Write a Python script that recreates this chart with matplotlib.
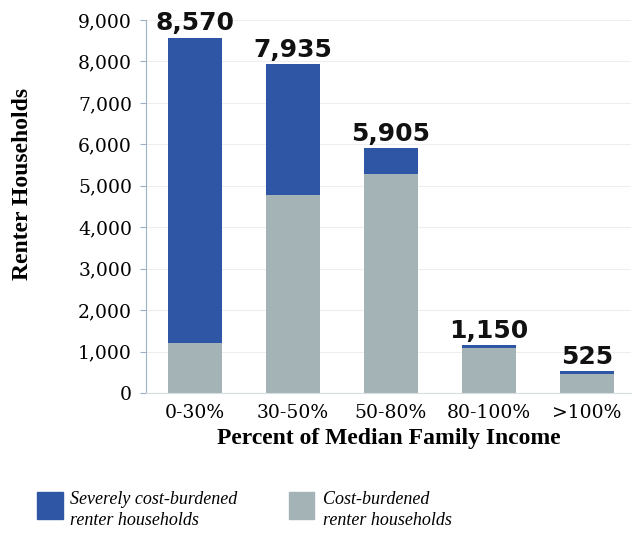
import numpy as np
import matplotlib.pyplot as plt
from matplotlib.patches import Rectangle

categories = ["0-30%", "30-50%", "50-80%", "80-100%", ">100%"]
totals = [8570, 7935, 5905, 1150, 525]
cost_burdened = [1200, 4780, 5290, 1080, 460]
severe = [t - c for t, c in zip(totals, cost_burdened)]
total_labels = ["8,570", "7,935", "5,905", "1,150", "525"]

blue = "#2f56a5"
gray = "#a4b4b6"
serif = "Liberation Serif"

fig = plt.figure(figsize=(6.33, 5.4), dpi=100)
ax = fig.add_axes([146 / 633, 147 / 540, (631 - 146) / 633, (393 - 20) / 540])

x = np.arange(len(categories))
ax.bar(x, cost_burdened, width=0.55, color=gray, zorder=2)
ax.bar(x, severe, width=0.55, bottom=cost_burdened, color=blue, zorder=2)

for xi, t, lab in zip(x, totals, total_labels):
    ax.text(xi, t + 60, lab, ha="center", va="bottom", fontsize=18,
            fontweight="bold", family="DejaVu Sans", color="#111111")

ax.set_xlim(-0.5, 4.45)
ax.set_ylim(0, 9000)
ax.set_yticks(np.arange(0, 9001, 1000))
ax.set_yticklabels([f"{v:,}" for v in range(0, 9001, 1000)],
                   family="DejaVu Serif", fontsize=13.5)
ax.set_xticks(x)
ax.set_xticklabels(categories, family="DejaVu Serif", fontsize=13.5)
ax.tick_params(axis="x", length=0, pad=8)
ax.tick_params(axis="y", length=4, color="#9fb0c4", pad=6)
ax.yaxis.grid(True, color="#eeeeee", linewidth=0.8, zorder=0)

for s in ["top", "right"]:
    ax.spines[s].set_visible(False)
ax.spines["left"].set_color("#9fb0c4")
ax.spines["bottom"].set_color("#d8dde0")

ax.set_ylabel("Renter Households", family=serif, fontweight="bold", fontsize=17)
ax.yaxis.set_label_coords(-0.232, 0.56)
ax.set_xlabel("Percent of Median Family Income", family=serif, fontweight="bold", fontsize=17, labelpad=4)

# legend
fig.patches.append(Rectangle((37 / 633, 1 - 519 / 540), 26 / 633, 27 / 540,
                             transform=fig.transFigure, color=blue))
fig.patches.append(Rectangle((289 / 633, 1 - 519 / 540), 25 / 633, 27 / 540,
                             transform=fig.transFigure, color=gray))
fig.text(70 / 633, 1 - 510 / 540, "Severely cost-burdened\nrenter households",
         family=serif, style="italic", fontsize=13, va="center", linespacing=1.3)
fig.text(323 / 633, 1 - 510 / 540, "Cost-burdened\nrenter households",
         family=serif, style="italic", fontsize=13, va="center", linespacing=1.3)

fig.savefig("out.png", dpi=100, facecolor="white")
